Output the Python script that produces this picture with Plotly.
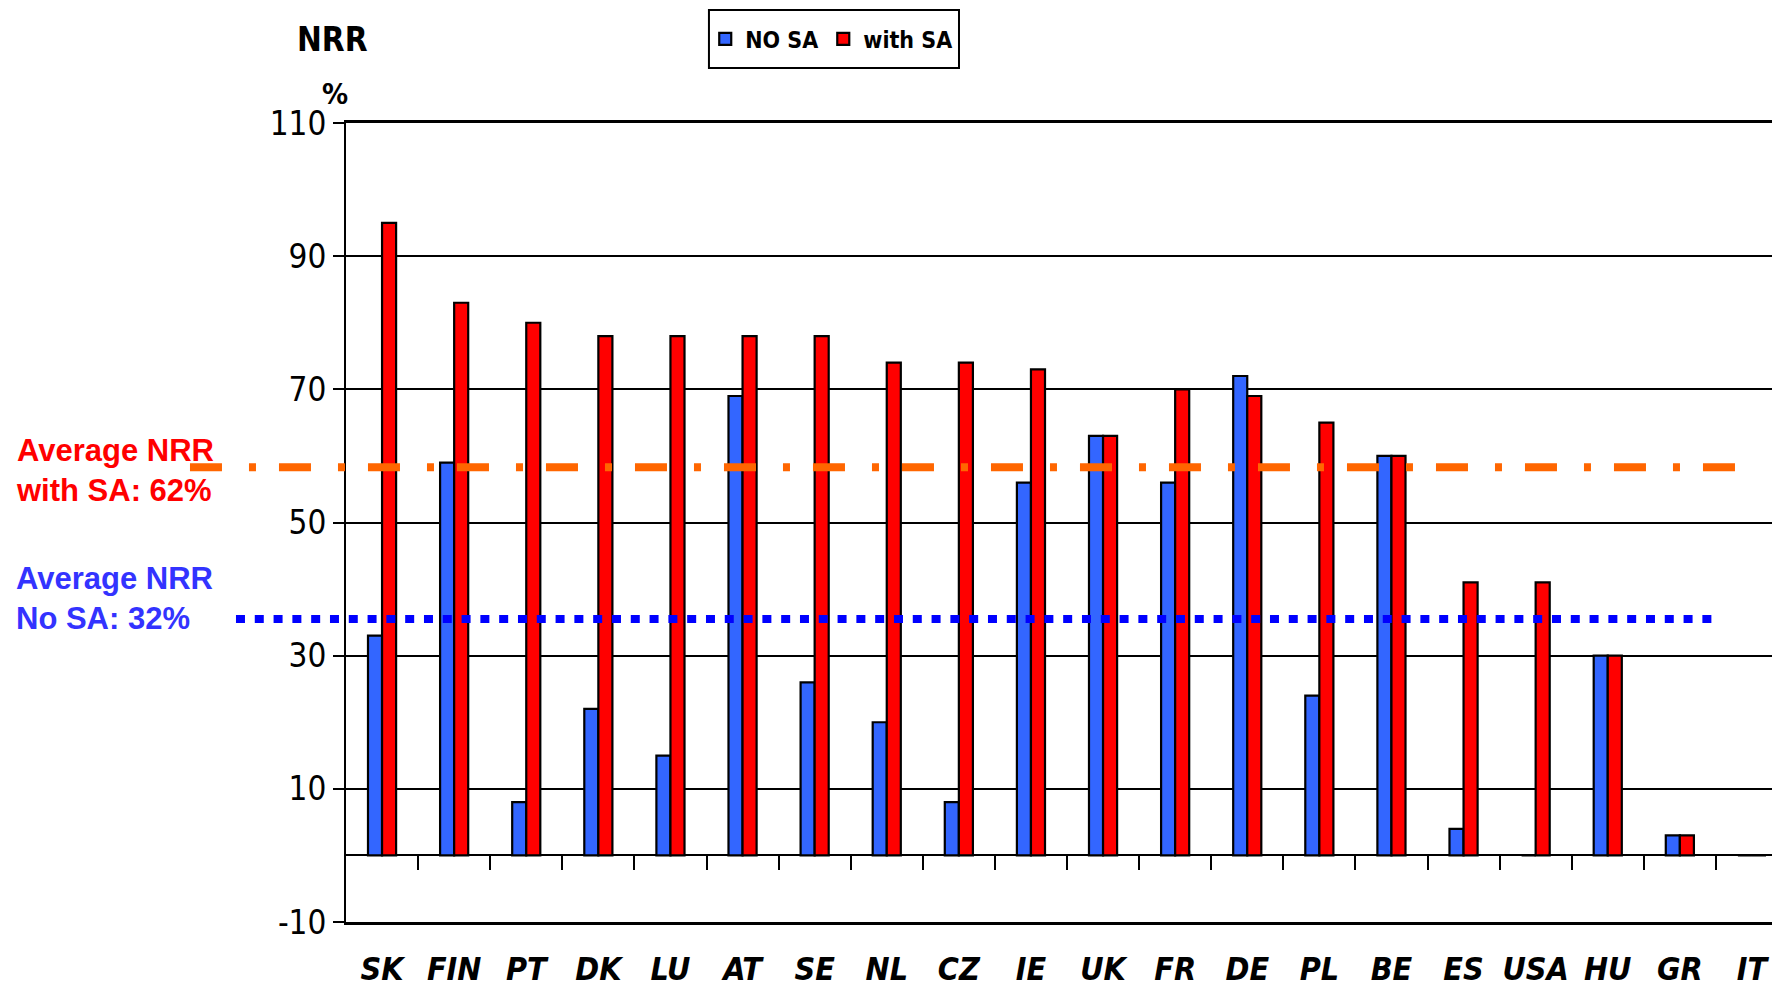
import plotly.graph_objects as go

countries = ["SK", "FIN", "PT", "DK", "LU", "AT", "SE", "NL", "CZ", "IE",
             "UK", "FR", "DE", "PL", "BE", "ES", "USA", "HU", "GR", "IT"]
no_sa = [33, 59, 8, 22, 15, 69, 26, 20, 8, 56, 63, 56, 72, 24, 60, 4, 0, 30, 3, 0]
with_sa = [95, 83, 80, 78, 78, 78, 78, 74, 74, 73, 63, 70, 69, 65, 60, 41, 41, 30, 3, 0]
avg_with_sa = [58.3]
avg_no_sa = [35.5]
y_ticks = [-10, 10, 30, 50, 70, 90, 110]
y_tick_labels = ["-10", "10", "30", "50", "70", "90", "110"]

NARROW = "Liberation Sans Narrow, Arial Narrow, DejaVu Sans Condensed, sans-serif"
SANS = "Liberation Sans, Arial, sans-serif"

fig = go.Figure()
fig.add_trace(go.Bar(x=countries, y=no_sa, name="NO SA",
                     marker=dict(color="#3366FF", line=dict(color="black", width=2.2))))
fig.add_trace(go.Bar(x=countries, y=with_sa, name="with SA",
                     marker=dict(color="#FF0000", line=dict(color="black", width=2.2))))

# invisible trace to host the boundary ticks on xaxis2
fig.add_trace(go.Scatter(x=[None], y=[None], xaxis="x2", showlegend=False, hoverinfo="skip"))

n = len(countries)
xr = [-0.5, n - 0.5]

fig.update_layout(
    width=1780, height=987,
    margin=dict(l=338, r=0, t=115, b=73, autoexpand=False),
    plot_bgcolor="white", paper_bgcolor="white",
    barmode="group", bargap=0.61, bargroupgap=0,
    showlegend=True,
    legend=dict(orientation="h", x=0.3365, y=1.1052, xanchor="center", yanchor="middle",
                borderwidth=0, bgcolor="rgba(0,0,0,0)",
                font=dict(family=NARROW, size=23, color="black", weight="bold"),
                itemwidth=30, traceorder="normal"),
    xaxis=dict(range=xr, showgrid=False, zeroline=False, ticks="", automargin=False,
               showline=True, linecolor="black", linewidth=3, mirror=True, tickangle=0,
               tickfont=dict(family=NARROW, size=32, color="black", weight="bold", style="italic"),
               ticklabelstandoff=17),
    xaxis2=dict(overlaying="x", anchor="free", position=10 / 120, range=xr,
                tickvals=[i + 0.5 for i in range(n - 1)], ticks="outside", ticklen=14,
                tickwidth=2, tickcolor="black", showticklabels=False, showgrid=False,
                showline=False, zeroline=False, automargin=False),
    yaxis=dict(range=[-10, 110], tickvals=y_ticks, ticktext=y_tick_labels,
               showgrid=True, gridcolor="black", automargin=False,
               gridwidth=2, zeroline=True, zerolinecolor="black", zerolinewidth=2,
               showline=True, linecolor="black", linewidth=2, ticks="outside",
               ticklen=11, tickwidth=2, tickcolor="black",
               tickfont=dict(family=NARROW, size=33, color="black")),
)

# legend frame
fig.add_shape(type="rect", xref="paper", yref="paper", x0=0.2517, x1=0.4251,
              y0=1.0689, y1=1.1415, line=dict(color="black", width=2), fillcolor="rgba(0,0,0,0)")

fig.add_shape(type="line", xref="paper", yref="y", x0=-0.1082, x1=0.9723,
              y0=avg_with_sa[0], y1=avg_with_sa[0],
              line=dict(color="#FF6600", width=8, dash="32px,27px,7px,23px"))
fig.add_shape(type="line", xref="paper", yref="y", x0=-0.0763, x1=0.9508,
              y0=avg_no_sa[0], y1=avg_no_sa[0],
              line=dict(color="#0000FF", width=8, dash="9px,9.8px"))

fig.add_annotation(text="<b>Average NRR<br>with SA: 62%</b>", xref="paper", yref="paper",
                   x=-0.2302, y=0.565, xanchor="left", yanchor="middle", align="left",
                   showarrow=False, font=dict(family=SANS, size=31, color="#FF0000"))
fig.add_annotation(text="<b>Average NRR<br>No SA: 32%</b>", xref="paper", yref="paper",
                   x=-0.2302, y=0.405, xanchor="left", yanchor="middle", align="left",
                   showarrow=False, font=dict(family=SANS, size=31, color="#3333FF"))
fig.add_annotation(text="<b>NRR</b>", xref="paper", yref="paper", x=-0.0095, y=1.104,
                   xanchor="center", yanchor="middle", showarrow=False,
                   font=dict(family=NARROW, size=33, color="black"))
fig.add_annotation(text="<b>%</b>", xref="paper", yref="paper", x=-0.0075, y=1.036,
                   xanchor="center", yanchor="middle", showarrow=False,
                   font=dict(family=NARROW, size=29, color="black"))

fig.write_html("out.html")
